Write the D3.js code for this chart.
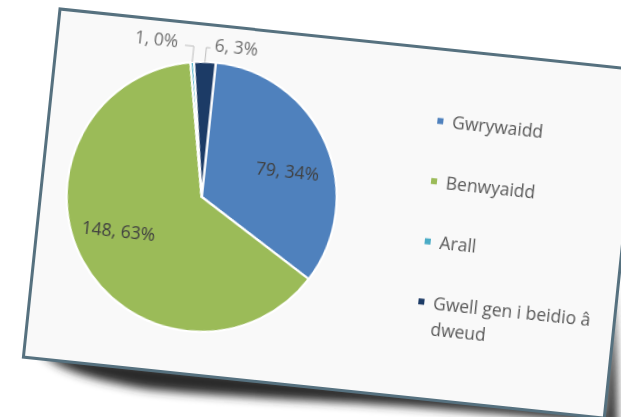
<!DOCTYPE html>
<html><head><meta charset="utf-8">
<script src="https://cdn.jsdelivr.net/npm/d3@7"></script>
<style>html,body{margin:0;padding:0;background:#fff;overflow:hidden}</style>
</head><body>
<svg id="chart" width="621" height="417"></svg>
<script>
// ---- data ----
const categories = ["Gwrywaidd", "Benwyaidd", "Arall", "Gwell gen i beidio â dweud"];
const values = [79, 148, 1, 6];
const legendLines = [["Gwrywaidd"], ["Benwyaidd"], ["Arall"], ["Gwell gen i beidio â", "dweud"]];
const colors = ["#4f81bd", "#9bbb59", "#4bacc6", "#1f3b66"];

// ---- layout ----
const W = 584, H = 350;
const cx = 160.5, cy = 172, r = 135;
const total = d3.sum(values);

const svg = d3.select("#chart");
const defs = svg.append("defs");
defs.append("filter").attr("id", "sh")
  .attr("x", "-20%").attr("y", "-100%").attr("width", "140%").attr("height", "300%")
  .append("feGaussianBlur").attr("stdDeviation", 5);
defs.append("filter").attr("id", "soft")
  .append("feGaussianBlur").attr("stdDeviation", 0.45);

const card = svg.append("g").attr("transform", "translate(60,9) rotate(6)");

// shadows
card.append("path")
  .attr("d", `M18,${H-6} C35,${H+8} 70,${H+16} 130,${H+19} C220,${H+18} 300,${H+12} 380,${H+9} C470,${H+7} 540,${H+5} ${W+6},${H+5} L${W},${H-6} Z`)
  .attr("fill", "#2a2a2a").attr("filter", "url(#sh)");
card.append("path")
  .attr("d", `M${W-6},215 C${W+2},260 ${W+8},310 ${W+14},${H+8} L${W},${H+4} Z`)
  .attr("fill", "#2a2a2a").attr("filter", "url(#sh)");

// card
card.append("rect").attr("x", 0).attr("y", 0).attr("width", W).attr("height", H)
  .attr("fill", "#f9f9f9").attr("stroke", "#56717f").attr("stroke-width", 3);

const content = card.append("g").attr("filter", "url(#soft)");

// pie
const pie = d3.pie().sort(null).value(d => d);
const arcs = pie(values);
const arc = d3.arc().innerRadius(0).outerRadius(r);
const g = content.append("g").attr("transform", `translate(${cx},${cy})`);
g.selectAll("path.slice").data(arcs).join("path")
  .attr("class", "slice")
  .attr("d", arc)
  .attr("fill", (d, i) => colors[i])
  .attr("stroke", "#ffffff").attr("stroke-width", 2.2).attr("stroke-linejoin", "round");

const labelText = (d) => `${d.data}, ${Math.round(d.data / total * 100)}%`;

// inside labels
const off = 6.5 * Math.PI / 180;
const labelArc = d3.arc().innerRadius(r * 0.665).outerRadius(r * 0.665);
const inside = arcs.filter(d => d.data / total > 0.1);
g.selectAll("text.inlab").data(inside).join("text")
  .attr("class", "inlab")
  .attr("transform", d => {
    const c = labelArc.centroid({startAngle: d.startAngle + off, endAngle: d.endAngle + off});
    return `translate(${c[0]},${c[1]})`;
  })
  .attr("text-anchor", "middle").attr("dy", "0.36em")
  .attr("font-family", "Open Sans, sans-serif").attr("font-size", 17.5)
  .attr("fill", "#404040")
  .text(labelText);

// outside labels with leader lines
const outside = arcs.filter(d => d.data / total <= 0.1)
  .sort((a, b) => (a.startAngle + a.endAngle) - (b.startAngle + b.endAngle));
outside.forEach((d, k) => {
  const side = k < outside.length / 2 ? -1 : 1;
  const m = (d.startAngle + d.endAngle) / 2;
  const ax = r * Math.sin(m), ay = -r * Math.cos(m);
  const ey = -r - 14;
  const hx = side < 0 ? ax - 9 : ax + 4;
  g.append("path")
    .attr("d", `M${ax},${ay} L${ax},${ey} L${hx},${ey}`)
    .attr("fill", "none").attr("stroke", "#bdbdbd").attr("stroke-width", 1);
  g.append("text")
    .attr("x", side < 0 ? ax - 16 : ax + 8).attr("y", -r - 11)
    .attr("text-anchor", side < 0 ? "end" : "start")
    .attr("font-family", "Open Sans, sans-serif").attr("font-size", 17.5)
    .attr("fill", "#707070")
    .text(labelText(d));
});

// legend
const lgX = 390, lgY0 = 71.7, lgStep = 60.5;
const leg = content.append("g");
categories.forEach((c, i) => {
  const y = lgY0 + i * lgStep;
  leg.append("rect").attr("x", lgX - 3).attr("y", y - 3).attr("width", 6).attr("height", 6)
    .attr("fill", colors[i]);
  const t = leg.append("text")
    .attr("font-family", "Open Sans, sans-serif").attr("font-size", 17.5)
    .attr("fill", "#595959");
  legendLines[i].forEach((line, j) => {
    t.append("tspan").attr("x", lgX + 12).attr("y", y + 6.5 + j * 26).text(line);
  });
});
</script>
</body></html>
